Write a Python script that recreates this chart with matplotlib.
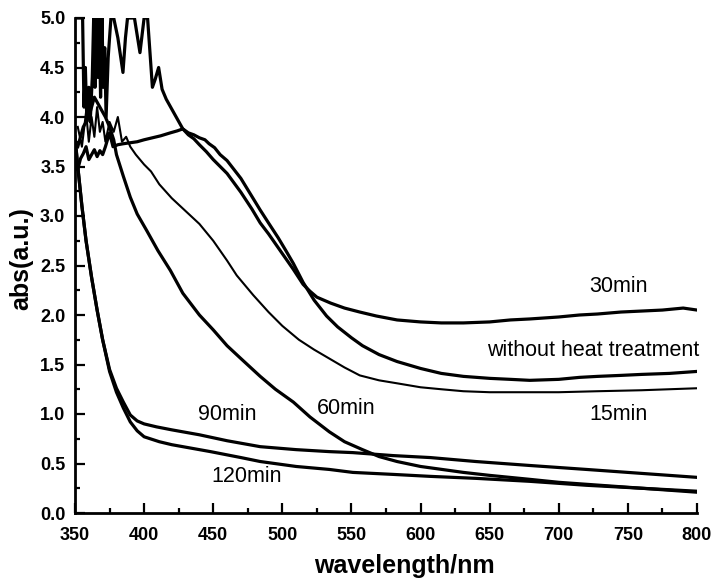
import matplotlib
matplotlib.use("Agg")
import matplotlib.pyplot as plt
from matplotlib.ticker import MultipleLocator

# ---------------- data ----------------
# 30 min: broad hump near 430 nm, then flattening around 1.9-2.05
wl_30 = [352, 354, 356, 358, 360, 362, 364, 366, 368, 370, 372, 375, 377.5, 381, 385, 390, 395,
         400, 406, 412, 419, 424, 428, 432, 436, 440, 445, 450, 455, 460, 470, 478, 484,
         490, 497, 503, 508, 515, 520, 525, 530, 535, 545, 556, 568, 583, 600, 615, 631,
         650, 665, 679, 700, 715, 728, 745, 760, 775, 790, 800]
abs_30 = [3.47, 3.58, 3.63, 3.70, 3.57, 3.62, 3.67, 3.60, 3.66, 3.62, 3.70, 3.84, 3.70, 3.72, 3.73, 3.74, 3.75,
          3.77, 3.79, 3.81, 3.84, 3.86, 3.88, 3.82, 3.78, 3.72, 3.65, 3.57, 3.50, 3.43, 3.24, 3.07, 2.93,
          2.82, 2.68, 2.56, 2.46, 2.31, 2.24, 2.18, 2.15, 2.12, 2.07, 2.03, 1.99, 1.95, 1.93, 1.92, 1.92,
          1.93, 1.95, 1.96, 1.98, 2.00, 2.01, 2.03, 2.04, 2.05, 2.07, 2.05]

# without heat treatment: saturated / spiky below ~430 nm, then steep fall to ~1.35
wl_raw = [350, 355.5, 356.5, 357.5, 358.5, 360, 361, 362.5, 363.5, 364.5, 365.5, 366.5, 367.5,
          368.5, 369.5, 370.5, 371.5, 372.5, 374, 376, 378, 381, 384.7, 386.5, 388, 393, 397,
          400, 402.5, 406, 408, 410.5, 413, 416, 420, 424, 428, 432, 436, 440, 444, 447, 451,
          455, 460, 470, 477, 484, 490, 497, 503, 508, 515, 523, 532, 540, 550, 558, 570, 583,
          600, 615, 631, 650, 665, 679, 700, 715, 728, 745, 760, 780, 800]
abs_raw = [5.0, 5.0, 4.10, 4.50, 4.00, 4.30, 3.95, 4.40, 5.0, 4.30, 5.0, 4.40, 5.0,
           4.20, 5.0, 4.30, 4.70, 4.00, 4.60, 5.0, 5.0, 4.80, 4.45, 4.80, 5.0, 5.0, 4.65,
           5.0, 5.0, 4.30, 4.38, 4.50, 4.28, 4.18, 4.08, 3.98, 3.88, 3.84, 3.82, 3.79, 3.77, 3.73, 3.69,
           3.62, 3.56, 3.38, 3.22, 3.06, 2.93, 2.78, 2.64, 2.52, 2.33, 2.15, 1.99, 1.88, 1.77, 1.69, 1.60, 1.53,
           1.46, 1.41, 1.38, 1.36, 1.35, 1.34, 1.35, 1.37, 1.38, 1.39, 1.40, 1.41, 1.43]

# 15 min: thin line, noisy start, then smooth decay to ~1.25
wl_15 = [352, 355, 358, 360, 362, 364, 366, 368, 370, 372, 375, 378, 381, 384, 387, 390, 394,
         400, 405, 411, 420, 430, 440, 450, 460, 467, 479, 490, 500, 512, 523, 534, 545,
         556, 570, 583, 600, 615, 631, 650, 679, 700, 728, 760, 780, 800]
abs_15 = [3.90, 3.70, 4.05, 3.75, 4.00, 3.80, 4.10, 3.85, 3.95, 3.75, 3.95, 3.85, 4.00, 3.75, 3.80, 3.70, 3.62,
          3.52, 3.45, 3.32, 3.18, 3.05, 2.92, 2.75, 2.55, 2.40, 2.20, 2.03, 1.89, 1.75, 1.65, 1.56, 1.47,
          1.39, 1.34, 1.31, 1.27, 1.25, 1.23, 1.22, 1.22, 1.22, 1.23, 1.24, 1.25, 1.26]

# 60 min
wl_60 = [352, 356, 360, 364, 368, 372, 375, 378, 380, 385, 390, 395, 402, 410, 419, 428, 440,
         450, 460, 470, 484, 495, 508, 520, 534, 545, 558, 570, 583, 600, 631, 650, 679, 700,
         730, 760, 800]
abs_60 = [3.70, 3.90, 4.00, 4.20, 4.10, 4.00, 3.90, 3.77, 3.62, 3.40, 3.19, 3.02, 2.85, 2.65, 2.45, 2.22, 2.00,
          1.85, 1.69, 1.56, 1.38, 1.25, 1.12, 0.97, 0.82, 0.72, 0.64, 0.57, 0.52, 0.47, 0.41, 0.38, 0.34, 0.31,
          0.28, 0.25, 0.22]

# 90 min
wl_90 = [350, 352, 355, 358, 362, 366, 370, 375, 380, 385, 390, 395, 400, 409, 420, 440, 460,
         484, 510, 534, 551, 580, 607, 640, 679, 720, 760, 800]
abs_90 = [3.80, 3.50, 3.10, 2.75, 2.38, 2.05, 1.75, 1.45, 1.26, 1.12, 0.99, 0.93, 0.90, 0.87, 0.84, 0.79, 0.73,
          0.67, 0.64, 0.62, 0.61, 0.58, 0.56, 0.52, 0.48, 0.44, 0.40, 0.36]

# 120 min
wl_120 = [350, 352, 355, 358, 362, 366, 370, 375, 380, 385, 390, 395, 400, 411, 420, 448, 470,
          484, 510, 534, 551, 580, 607, 640, 679, 720, 760, 800]
abs_120 = [3.80, 3.50, 3.10, 2.75, 2.38, 2.05, 1.75, 1.43, 1.22, 1.06, 0.92, 0.83, 0.77, 0.72, 0.69, 0.62, 0.56,
           0.52, 0.47, 0.44, 0.41, 0.39, 0.37, 0.35, 0.32, 0.28, 0.25, 0.21]

# curve labels: (text, x, y)
label_texts = ["30min", "without heat treatment", "15min", "60min", "90min", "120min"]
label_x = [743.5, 725, 743.5, 546, 460, 474.5]
label_y = [2.29, 1.64, 1.00, 1.06, 0.99, 0.37]

x_ticks = [350, 400, 450, 500, 550, 600, 650, 700, 750, 800]
y_ticks = [0.0, 0.5, 1.0, 1.5, 2.0, 2.5, 3.0, 3.5, 4.0, 4.5, 5.0]

# ---------------- drawing ----------------
plt.rcParams['font.family'] = ['Liberation Sans', 'DejaVu Sans']

fig = plt.figure(figsize=(7.14, 5.80), dpi=100)
ax = fig.add_axes([75 / 714, 1 - 513 / 580, (697 - 75) / 714, (513 - 18) / 580])

thick = 2.3
ax.plot(wl_30, abs_30, color='black', lw=thick, solid_joinstyle='round')
ax.plot(wl_raw, abs_raw, color='black', lw=thick, solid_joinstyle='round')
ax.plot(wl_15, abs_15, color='black', lw=1.5, solid_joinstyle='round')
ax.plot(wl_60, abs_60, color='black', lw=thick, solid_joinstyle='round')
ax.plot(wl_90, abs_90, color='black', lw=thick, solid_joinstyle='round')
ax.plot(wl_120, abs_120, color='black', lw=thick, solid_joinstyle='round')

for t, x, y in zip(label_texts, label_x, label_y):
    ax.text(x, y, t, ha='center', va='center', fontsize=15.5, color='black', clip_on=False)

ax.set_xlim(350, 800)
ax.set_ylim(0, 5.0)
ax.set_xticks(x_ticks)
ax.set_yticks(y_ticks)
ax.set_xticklabels([str(v) for v in x_ticks])
ax.set_yticklabels([f"{v:.1f}" for v in y_ticks])
ax.xaxis.set_minor_locator(MultipleLocator(25))
ax.yaxis.set_minor_locator(MultipleLocator(0.25))

for s in ['top', 'right']:
    ax.spines[s].set_visible(False)
for s in ['left', 'bottom']:
    ax.spines[s].set_linewidth(2.0)

ax.tick_params(which='major', direction='in', length=7.5, width=1.6, labelsize=13, pad=10)
ax.tick_params(which='minor', direction='in', length=3.8, width=1.6)
ax.tick_params(axis='y', which='major', pad=7)
for lab in ax.get_xticklabels() + ax.get_yticklabels():
    lab.set_fontweight('bold')

ax.set_xlabel('wavelength/nm', fontsize=18, fontweight='bold')
ax.set_ylabel('abs(a.u.)', fontsize=18, fontweight='bold')
ax.xaxis.set_label_coords((404 - 75) / 622, -(554 - 513) / 495)
ax.yaxis.set_label_coords(-(75 - 33) / 622, (513 - 259) / 495)

fig.savefig('out.png', dpi=100)
